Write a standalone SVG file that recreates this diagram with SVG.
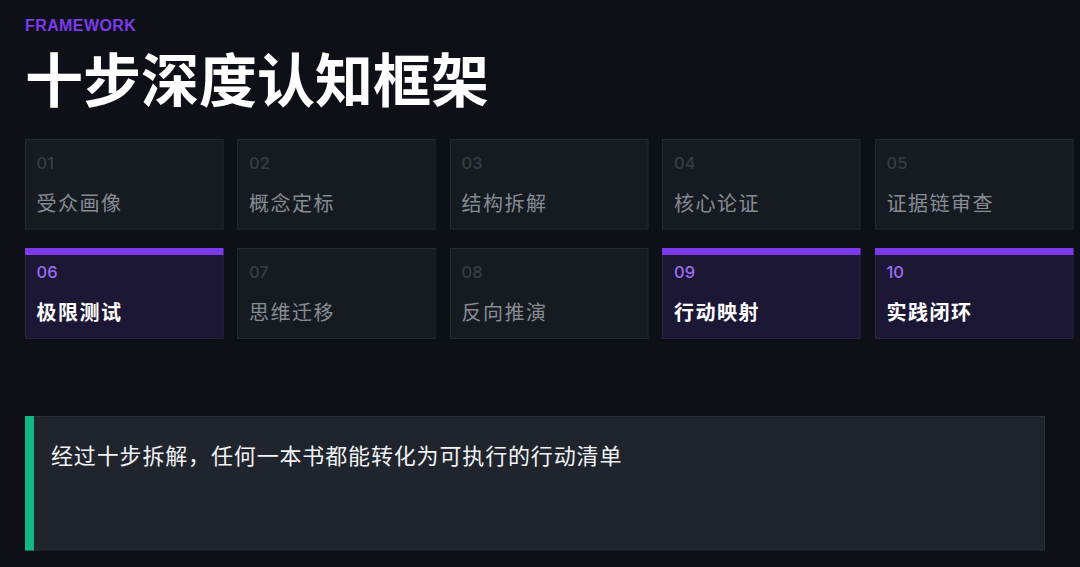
<svg xmlns="http://www.w3.org/2000/svg" width="1080" height="567" viewBox="0 0 1080 567">
<style>
.card{fill:#161b22;stroke:#252a31;stroke-width:1}
.act{fill:#1d1736;stroke:#2a2540;stroke-width:1}
.bar{fill:#7c3aed}
.num{font-family:"Inter","Liberation Sans",sans-serif;font-size:16.5px;font-weight:500;fill:#383d45}
.numa{font-family:"Inter","Liberation Sans",sans-serif;font-size:16.5px;font-weight:500;fill:#9d6ef0}
.lab{font-family:"Noto Sans CJK SC",sans-serif;font-size:20px;letter-spacing:1.5px;fill:#878b93}
.laba{font-family:"Noto Sans CJK SC",sans-serif;font-size:20px;letter-spacing:1.5px;fill:#ffffff;font-weight:700}
</style>
<rect x="0" y="0" width="1080" height="567" fill="#0d1117"/>
<text x="25" y="30.5" font-family="Liberation Sans, sans-serif" font-size="16" font-weight="700" letter-spacing="0.4" fill="#7c3aed">FRAMEWORK</text>
<text x="25" y="102" font-family="Noto Sans CJK SC, sans-serif" font-size="58" font-weight="700" fill="#ffffff">十步深度认知框架</text>

<g id="n01"><rect class="card" x="25.5" y="139.5" width="197.5" height="89.5"/><text class="num" x="36.5" y="169">01</text><text class="lab" x="36.5" y="211">受众画像</text></g>
<g id="n02"><rect class="card" x="237.5" y="139.5" width="197.5" height="89.5"/><text class="num" x="249" y="169">02</text><text class="lab" x="249" y="211">概念定标</text></g>
<g id="n03"><rect class="card" x="450.5" y="139.5" width="197.5" height="89.5"/><text class="num" x="461.5" y="169">03</text><text class="lab" x="461.5" y="211">结构拆解</text></g>
<g id="n04"><rect class="card" x="662.5" y="139.5" width="197.5" height="89.5"/><text class="num" x="674" y="169">04</text><text class="lab" x="674" y="211">核心论证</text></g>
<g id="n05"><rect class="card" x="875.5" y="139.5" width="197.5" height="89.5"/><text class="num" x="886.5" y="169">05</text><text class="lab" x="886.5" y="211">证据链审查</text></g>

<g id="n06"><rect class="act" x="25.5" y="248.5" width="197.5" height="90"/><rect class="bar" x="25" y="248" width="198.5" height="7"/><text class="numa" x="36.5" y="278">06</text><text class="laba" x="36.5" y="320">极限测试</text></g>
<g id="n07"><rect class="card" x="237.5" y="248.5" width="197.5" height="90"/><text class="num" x="249" y="278">07</text><text class="lab" x="249" y="320">思维迁移</text></g>
<g id="n08"><rect class="card" x="450.5" y="248.5" width="197.5" height="90"/><text class="num" x="461.5" y="278">08</text><text class="lab" x="461.5" y="320">反向推演</text></g>
<g id="n09"><rect class="act" x="662.5" y="248.5" width="197.5" height="90"/><rect class="bar" x="662" y="248" width="198.5" height="7"/><text class="numa" x="674" y="278">09</text><text class="laba" x="674" y="320">行动映射</text></g>
<g id="n10"><rect class="act" x="875.5" y="248.5" width="197.5" height="90"/><rect class="bar" x="875" y="248" width="198.5" height="7"/><text class="numa" x="886.5" y="278">10</text><text class="laba" x="886.5" y="320">实践闭环</text></g>

<g id="summary"><rect x="25.5" y="416.5" width="1019" height="133.5" fill="#1f242d" stroke="#2a2f38" stroke-width="1"/><rect x="25" y="416" width="9" height="134.5" fill="#10b981"/><text x="51" y="463.5" font-family="Noto Sans CJK SC, sans-serif" font-size="22" letter-spacing="0.85" fill="#f0f2f5">经过十步拆解，任何一本书都能转化为可执行的行动清单</text></g>
<g id="connectors"/>
</svg>
